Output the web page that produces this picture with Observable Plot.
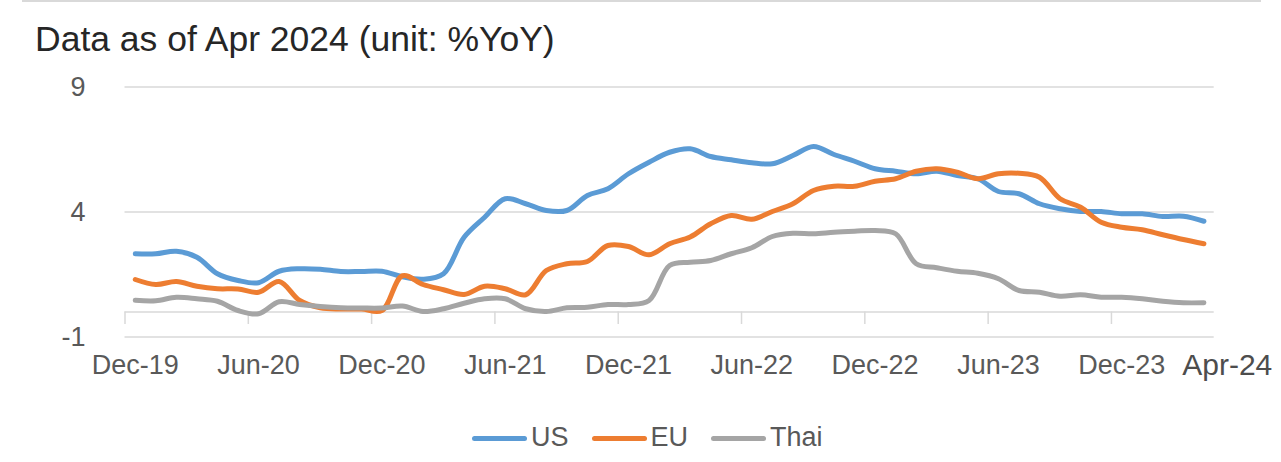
<!DOCTYPE html>
<html>
<head>
<meta charset="utf-8">
<script src="https://cdn.jsdelivr.net/npm/d3@7"></script>
<script src="https://cdn.jsdelivr.net/npm/@observablehq/plot@0.6"></script>
<style>
  html, body { margin: 0; padding: 0; background: #ffffff; }
  body { width: 1281px; height: 462px; position: relative; overflow: hidden;
         font-family: "Liberation Sans", Arial, Helvetica, sans-serif; }
  #topline { position: absolute; left: 22px; top: 0; width: 1239px; height: 2px; background: #d9d9d9; }
  #title { position: absolute; left: 35px; top: 21.6px; font-size: 35.5px; line-height: 35.5px; color: #262626; white-space: nowrap; }
  #chart { position: absolute; left: 0; top: 60px; width: 1281px; height: 340px; }
  #legend { position: absolute; left: 472px; top: 424px; display: flex; align-items: center;
            font-size: 27px; line-height: 27px; color: #595959; white-space: nowrap; }
  .item { display: flex; align-items: center; margin-right: 23px; }
  .sw { width: 55px; height: 5px; border-radius: 3px; margin-right: 4px; margin-top: 2px; }
</style>
</head>
<body>
<div id="topline"></div>
<div id="title">Data as of Apr 2024 (unit: %YoY)</div>
<div id="chart"></div>
<div id="legend"></div>
<script>
// ---- data (monthly, Dec-19 .. Apr-24) ----
const months = ["Dec-19","Jan-20","Feb-20","Mar-20","Apr-20","May-20","Jun-20","Jul-20","Aug-20","Sep-20","Oct-20","Nov-20",
  "Dec-20","Jan-21","Feb-21","Mar-21","Apr-21","May-21","Jun-21","Jul-21","Aug-21","Sep-21","Oct-21","Nov-21",
  "Dec-21","Jan-22","Feb-22","Mar-22","Apr-22","May-22","Jun-22","Jul-22","Aug-22","Sep-22","Oct-22","Nov-22",
  "Dec-22","Jan-23","Feb-23","Mar-23","Apr-23","May-23","Jun-23","Jul-23","Aug-23","Sep-23","Oct-23","Nov-23",
  "Dec-23","Jan-24","Feb-24","Mar-24","Apr-24"];

const usVals = [2.33,2.33,2.43,2.19,1.53,1.26,1.17,1.63,1.73,1.71,1.62,1.62,
  1.63,1.41,1.31,1.53,2.99,3.79,4.53,4.33,4.06,4.06,4.66,4.93,
  5.53,5.99,6.39,6.53,6.22,6.09,5.97,5.93,6.26,6.62,6.30,6.03,
  5.73,5.63,5.53,5.63,5.46,5.33,4.82,4.73,4.33,4.13,4.02,4.02,
  3.93,3.93,3.82,3.83,3.63];

const euVals = [1.30,1.10,1.22,1.03,0.93,0.92,0.79,1.22,0.46,0.17,0.12,0.12,
  0.06,1.45,1.10,0.89,0.70,1.03,0.93,0.69,1.66,1.93,2.02,2.66,
  2.62,2.29,2.73,3.00,3.53,3.86,3.71,4.02,4.33,4.86,5.03,5.03,
  5.23,5.33,5.63,5.73,5.59,5.33,5.53,5.55,5.39,4.53,4.19,3.59,
  3.39,3.29,3.09,2.90,2.73];

const thaiVals = [0.47,0.45,0.59,0.53,0.43,0.06,-0.07,0.41,0.30,0.22,0.17,0.16,
  0.16,0.24,0.02,0.13,0.35,0.53,0.53,0.13,0.02,0.17,0.19,0.30,
  0.30,0.46,1.86,1.99,2.06,2.33,2.57,3.02,3.15,3.13,3.19,3.23,
  3.26,3.13,1.93,1.77,1.63,1.55,1.33,0.86,0.79,0.63,0.69,0.59,
  0.59,0.53,0.43,0.37,0.37];

const seriesNames = ["US", "EU", "Thai"];
const seriesColors = ["#5b9bd5", "#ed7d31", "#a5a5a5"];
const yTicks = [-1, 4, 9];
const yTickLabels = ["-1", "4", "9"];
const tickIndex = [0, 6, 12, 18, 24, 30, 36, 42, 48];
const tickLabels = ["Dec-19","Jun-20","Dec-20","Jun-21","Dec-21","Jun-22","Dec-22","Jun-23","Dec-23"];
const endLabel = "Apr-24";

// ---- build table ----
const seriesVals = [usVals, euVals, thaiVals];
const rows = [];
seriesNames.forEach((name, s) => {
  seriesVals[s].forEach((v, i) => rows.push({ i, month: months[i], v, series: name }));
});
const boundaries = tickIndex.map(i => i - 0.5);
const lastIdx = months.length - 1;

const FONT = '"Liberation Sans", Arial, Helvetica, sans-serif';

const chart = Plot.plot({
  width: 1281,
  height: 340,
  marginTop: 26.5,
  marginBottom: 63.5,
  marginLeft: 124.5,
  marginRight: 67.3,
  style: { fontFamily: FONT, background: "transparent", overflow: "visible" },
  x: { type: "linear", domain: [-0.5, lastIdx + 0.5] },
  y: { domain: [-1, 9] },
  color: { domain: seriesNames, range: seriesColors },
  marks: [
    Plot.ruleY(yTicks, { stroke: "#d9d9d9", strokeWidth: 1.5 }),
    Plot.ruleY([0], { stroke: "#d9d9d9", strokeWidth: 1.5 }),
    Plot.ruleX(boundaries, { x: d => d, y1: () => 0, y2: () => -0.5, stroke: "#d9d9d9", strokeWidth: 1.5 }),
    Plot.axisY({ ticks: yTicks, tickFormat: d => yTickLabels[yTicks.indexOf(d)], tickSize: 0, tickPadding: 39.5,
                 fontSize: 27, color: "#595959", label: null }),
    Plot.axisX({ ticks: tickIndex, tickFormat: d => tickLabels[tickIndex.indexOf(d)], tickSize: 0,
                 tickPadding: 18.3, fontSize: 27, color: "#595959", label: null }),
    Plot.line(rows, { x: "i", y: "v", z: "series", stroke: "series", curve: "catmull-rom",
                      strokeWidth: 5, strokeLinecap: "round", strokeLinejoin: "round" }),
    Plot.text([{ i: lastIdx, label: endLabel }], { x: "i", y: () => -1, text: "label", dx: 23.3, dy: 27.9,
                      fontSize: 30, fill: "#4d4d4d", textAnchor: "middle" })
  ]
});
document.getElementById("chart").appendChild(chart);

// ---- legend ----
const legend = document.getElementById("legend");
seriesNames.forEach((name, s) => {
  const item = document.createElement("div");
  item.className = "item";
  const sw = document.createElement("span");
  sw.className = "sw";
  sw.style.background = seriesColors[s];
  const t = document.createElement("span");
  t.textContent = name;
  item.appendChild(sw);
  item.appendChild(t);
  legend.appendChild(item);
});
</script>
</body>
</html>
